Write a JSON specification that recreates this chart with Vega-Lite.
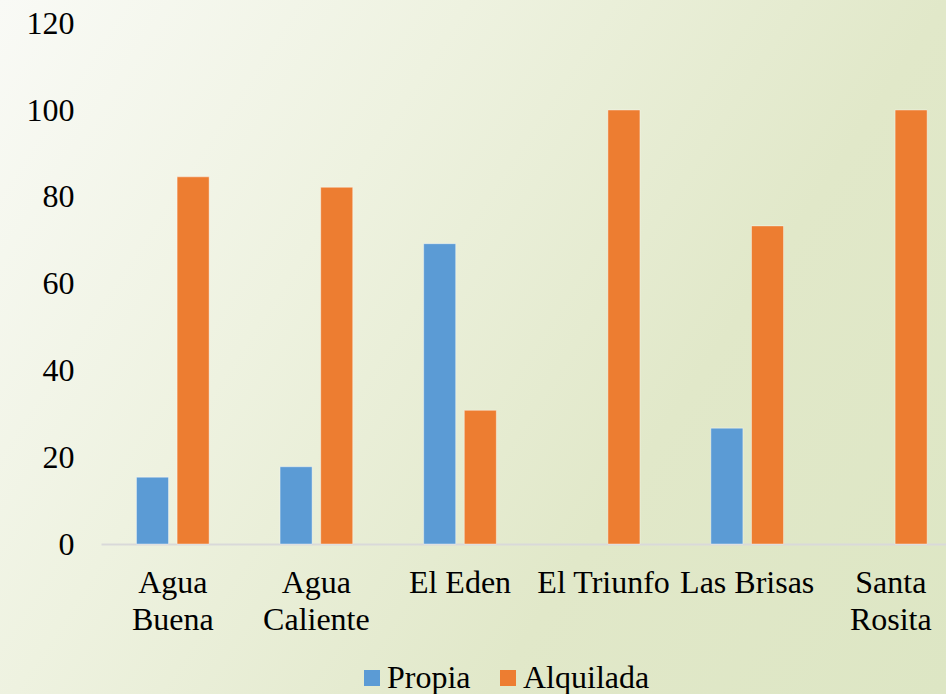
{
  "$schema": "https://vega.github.io/schema/vega-lite/v6.json",
  "width": 946,
  "height": 694,
  "padding": 0,
  "autosize": {"type": "none"},
  "config": {
    "font": "Liberation Serif",
    "view": {
      "stroke": null,
      "fill": {
        "gradient": "linear",
        "x1": 0, "y1": 0, "x2": 1.2, "y2": 0.58,
        "stops": [
          {"offset": 0, "color": "#f9faf6"},
          {"offset": 0.335, "color": "#eef2e0"},
          {"offset": 0.676, "color": "#e1e8c9"},
          {"offset": 1, "color": "#dde6c4"}
        ]
      }
    }
  },
  "data": {
    "values": [
      {"lugar": "Agua Buena", "tipo": "Propia", "valor": 15.4},
      {"lugar": "Agua Buena", "tipo": "Alquilada", "valor": 84.6},
      {"lugar": "Agua Caliente", "tipo": "Propia", "valor": 17.8},
      {"lugar": "Agua Caliente", "tipo": "Alquilada", "valor": 82.2},
      {"lugar": "El Eden", "tipo": "Propia", "valor": 69.2},
      {"lugar": "El Eden", "tipo": "Alquilada", "valor": 30.8},
      {"lugar": "El Triunfo", "tipo": "Propia", "valor": 0},
      {"lugar": "El Triunfo", "tipo": "Alquilada", "valor": 100},
      {"lugar": "Las Brisas", "tipo": "Propia", "valor": 26.7},
      {"lugar": "Las Brisas", "tipo": "Alquilada", "valor": 73.3},
      {"lugar": "Santa Rosita", "tipo": "Propia", "valor": 0},
      {"lugar": "Santa Rosita", "tipo": "Alquilada", "valor": 100}
    ]
  },
  "mark": {"type": "bar", "stroke": "white", "strokeWidth": 1},
  "encoding": {
    "x": {
      "field": "lugar",
      "type": "nominal",
      "sort": null,
      "scale": {"range": [101, 962.6], "paddingInner": 0.494, "paddingOuter": 0.247},
      "axis": {
        "orient": "bottom",
        "offset": -150,
        "title": null,
        "domainColor": "#d9d9d9",
        "domainWidth": 2,
        "ticks": false,
        "grid": false,
        "labelAngle": 0,
        "labelPadding": 23,
        "labelFontSize": 32,
        "labelFont": "Liberation Serif",
        "labelColor": "#000000",
        "labelLineHeight": 37,
        "labelLimit": 0,
        "labelOverlap": false,
        "labelBound": false,
        "labelExpr": "indexof(['Agua Buena','Agua Caliente','Santa Rosita'], datum.label) >= 0 ? split(datum.label, ' ') : datum.label"
      }
    },
    "xOffset": {
      "field": "tipo",
      "type": "nominal",
      "sort": ["Propia", "Alquilada"],
      "scale": {"paddingInner": 0.212, "paddingOuter": 0}
    },
    "y": {
      "field": "valor",
      "type": "quantitative",
      "scale": {"domain": [-34.56, 125.35], "nice": false},
      "axis": {
        "orient": "left",
        "offset": -101,
        "title": null,
        "values": [0, 20, 40, 60, 80, 100, 120],
        "domain": false,
        "ticks": false,
        "grid": false,
        "labelPadding": 27,
        "labelFontSize": 32,
        "labelFont": "Liberation Serif",
        "labelColor": "#000000"
      }
    },
    "strokeOpacity": {
      "condition": {"test": "datum.valor == 0", "value": 0},
      "value": 0.4
    },
    "color": {
      "field": "tipo",
      "type": "nominal",
      "sort": ["Propia", "Alquilada"],
      "scale": {"range": ["#5B9BD5", "#ED7D31"]},
      "legend": {
        "orient": "none",
        "legendX": 356,
        "legendY": 662,
        "direction": "horizontal",
        "title": null,
        "padding": 0,
        "symbolType": "square",
        "symbolSize": 256,
        "symbolStrokeWidth": 0,
        "labelFontSize": 32,
        "labelFont": "Liberation Serif",
        "labelColor": "#000000",
        "labelOffset": -1,
        "columnPadding": 21
      }
    }
  }
}
